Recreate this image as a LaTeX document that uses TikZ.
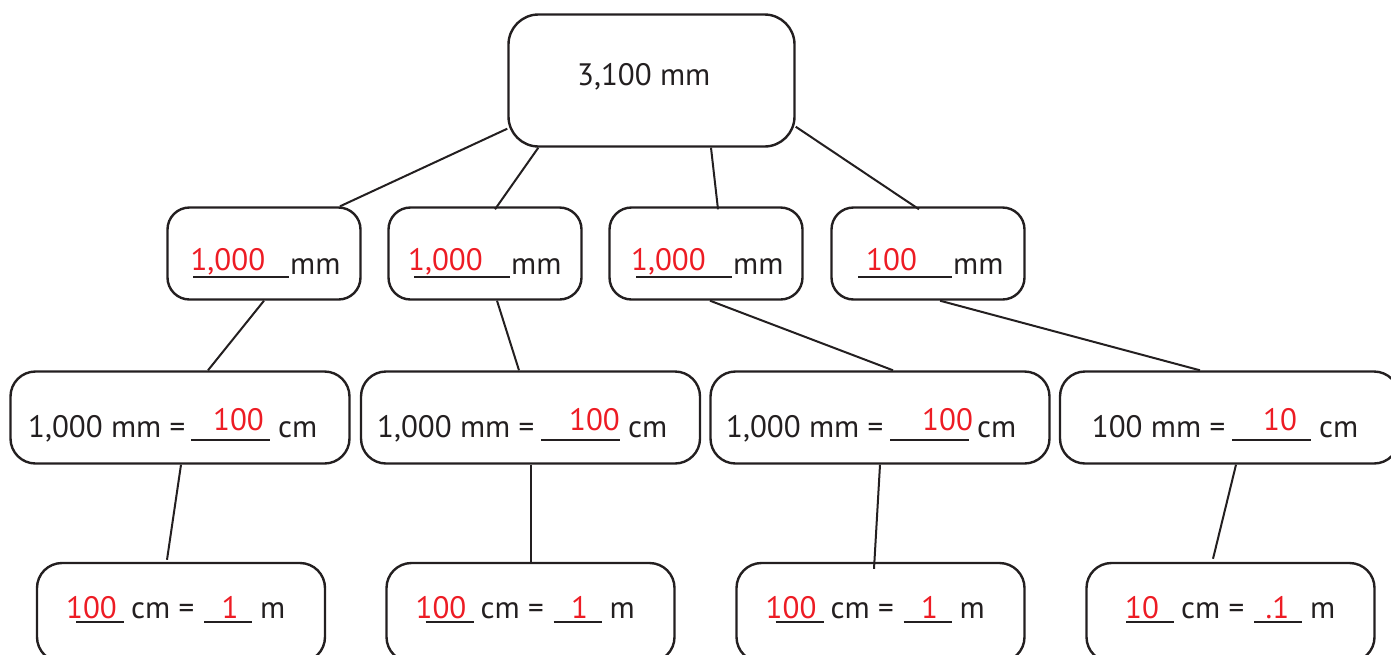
\documentclass[tikz,border=0pt]{standalone}
\usepackage{fontspec}
\setmainfont{PT Sans}
\definecolor{ansred}{RGB}{237,28,36}
\definecolor{ink}{RGB}{35,31,32}
\newcommand\redtxt[1]{\textcolor{ansred}{#1}}
\newcommand\uline[1]{\rule[-4.3pt]{#1}{2pt}}
\newcommand\putat[2]{\makebox[0pt][l]{\hspace*{#1}#2}}
\tikzset{
  box/.style={draw=ink, line width=2.4pt, rounded corners=22pt, inner sep=0pt},
  topbox/.style={box, rounded corners=30pt, minimum width=286pt, minimum height=132pt},
  midbox/.style={box, minimum width=193pt, minimum height=92pt},
  rowbox/.style={box, rounded corners=25pt, minimum width=339pt, minimum height=92pt},
  botbox/.style={box, rounded corners=25pt, minimum width=288pt, minimum height=99pt},
  txt/.style={anchor=base west, inner sep=0pt, text=ink, font=\fontsize{31}{37}\selectfont},
  link/.style={draw=ink, line width=2pt}
}
\begin{document}
\begin{tikzpicture}[x=1pt,y=-1pt]
\useasboundingbox (0,0) rectangle (1391,654);
\clip (0,0) rectangle (1391,654);
% boxes
\node[topbox] (top) at (651.5,80.5) {};
\node[midbox] (a1) at (264,253.5) {};
\node[midbox] (a2) at (485,253.5) {};
\node[midbox] (a3) at (706,253.5) {};
\node[midbox] (a4) at (928,253.5) {};
\node[rowbox] (c1) at (180,417.5) {};
\node[rowbox] (c2) at (530.5,417.5) {};
\node[rowbox] (c3) at (880,417.5) {};
\node[rowbox] (c4) at (1229.5,417.5) {};
\node[botbox] (d1) at (181,612.5) {};
\node[botbox] (d2) at (530.5,612.5) {};
\node[botbox] (d3) at (880.5,612.5) {};
\node[botbox] (d4) at (1230.5,612.5) {};
% texts
\node[txt] (ttop) at (577,85) {3,100 mm};
\node[txt] (ta1) at (193,274) {\putat{-2.6pt}{\raisebox{4pt}{\redtxt{1,000}}}\uline{96pt}\hspace{1pt}mm};
\node[txt] (ta2) at (414,274) {\putat{-6pt}{\raisebox{4pt}{\redtxt{1,000}}}\uline{96pt}\hspace{1pt}mm};
\node[txt] (ta3) at (636,274) {\putat{-5pt}{\raisebox{4pt}{\redtxt{1,000}}}\uline{96pt}\hspace{1pt}mm};
\node[txt] (ta4) at (858,274) {\putat{8pt}{\raisebox{4pt}{\redtxt{100}}}\uline{94pt}\hspace{1pt}mm};
\node[txt] (tc1) at (28,437) {\makebox[163pt][l]{1,000 mm =}\putat{22pt}{\raisebox{6.5pt}{\redtxt{100}}}\uline{79pt}\hspace{8pt}cm};
\node[txt] (tc2) at (377,437) {\makebox[164pt][l]{1,000 mm =}\putat{28pt}{\raisebox{6.5pt}{\redtxt{100}}}\uline{79pt}\hspace{8pt}cm};
\node[txt] (tc3) at (726,437) {\makebox[164pt][l]{1,000 mm =}\putat{32pt}{\raisebox{6.5pt}{\redtxt{100}}}\uline{79pt}\hspace{8pt}cm};
\node[txt] (tc4) at (1091.7,437) {\makebox[140.3pt][l]{100 mm =}\putat{31pt}{\raisebox{6.5pt}{\redtxt{10}}}\uline{79pt}\hspace{8pt}cm};
\node[txt] (td1) at (76,618.3) {\putat{-10pt}{\redtxt{100}}\uline{48pt}\makebox[80pt][l]{\hspace{7pt}cm =}\putat{17.5pt}{\redtxt{1}}\uline{48pt}\hspace{8pt}m};
\node[txt] (td2) at (425.5,618.3) {\putat{-10pt}{\redtxt{100}}\uline{48pt}\makebox[80pt][l]{\hspace{7pt}cm =}\putat{17.5pt}{\redtxt{1}}\uline{48pt}\hspace{8pt}m};
\node[txt] (td3) at (775.5,618.3) {\putat{-10pt}{\redtxt{100}}\uline{48pt}\makebox[80pt][l]{\hspace{7pt}cm =}\putat{17.5pt}{\redtxt{1}}\uline{48pt}\hspace{8pt}m};
\node[txt] (td4) at (1126,618.3) {\putat{-1pt}{\redtxt{10}}\uline{48pt}\makebox[80pt][l]{\hspace{7pt}cm =}\putat{11.5pt}{\redtxt{.1}}\uline{48pt}\hspace{8pt}m};
% connectors
\draw[link] ([yshift=19pt]top.south west) -- ([xshift=76pt]a1.north);
\draw[link] ([xshift=31pt]top.south west) -- ([xshift=10pt,yshift=-3pt]a2.north);
\draw[link] ([xshift=59.5pt]top.south) -- ([xshift=12pt,yshift=-3pt]a3.north);
\draw[link] ([yshift=21pt]top.south east) -- ([xshift=-9pt,yshift=-3pt]a4.north);
\draw[link] (a1.south) -- ([xshift=28pt]c1.north);
\draw[link] ([xshift=12pt]a2.south) -- ([xshift=-11.5pt]c2.north);
\draw[link] ([xshift=4pt]a3.south) -- ([xshift=13pt]c3.north);
\draw[link] ([xshift=12pt]a4.south) -- ([xshift=-29.5pt]c4.north);
\draw[link] ([xshift=1pt]c1.south) -- ([xshift=-14pt,yshift=2pt]d1.north);
\draw[link] (c2.south) -- (d2.north);
\draw[link] (c3.south) -- ([xshift=-6.5pt,yshift=-7pt]d3.north);
\draw[link] ([xshift=6.5pt]c4.south) -- ([xshift=-17.5pt,yshift=3pt]d4.north);
\end{tikzpicture}
\end{document}
